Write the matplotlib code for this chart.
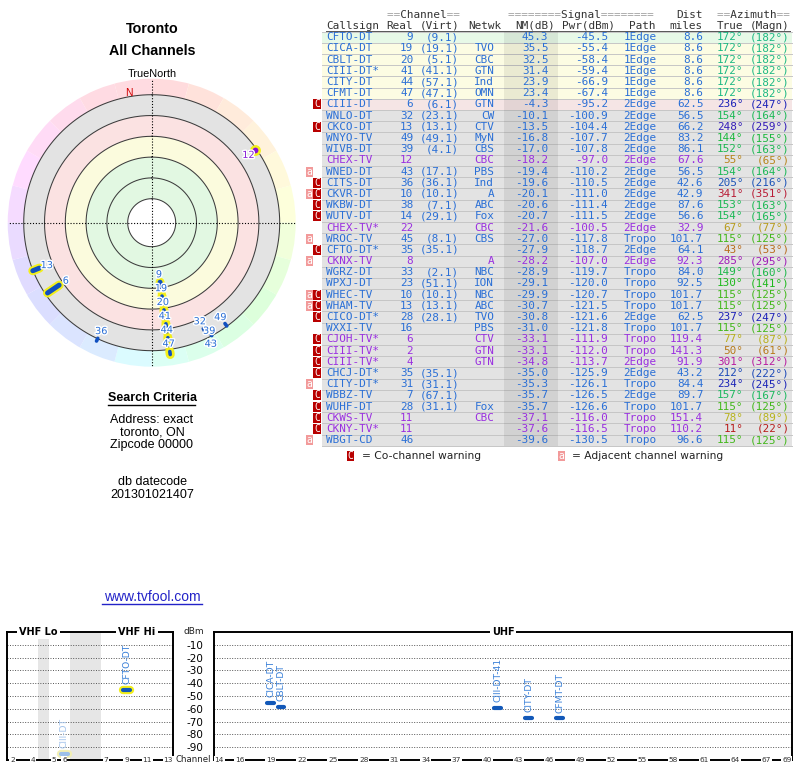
import colorsys
import numpy as np
import matplotlib
matplotlib.use('Agg')
import matplotlib.pyplot as plt
import matplotlib.patheffects as pe
from matplotlib.patches import Rectangle

plt.rcParams['axes.unicode_minus'] = False

# station list, as printed in the table (sorted by noise margin)
callsign = ['CFTO-DT', 'CICA-DT', 'CBLT-DT', 'CIII-DT*', 'CITY-DT', 'CFMT-DT', 'CIII-DT',
            'WNLO-DT', 'CKCO-DT', 'WNYO-TV', 'WIVB-DT', 'CHEX-TV', 'WNED-DT', 'CITS-DT',
            'CKVR-DT', 'WKBW-DT', 'WUTV-DT', 'CHEX-TV*', 'WROC-TV', 'CFTO-DT*', 'CKNX-TV',
            'WGRZ-DT', 'WPXJ-DT', 'WHEC-TV', 'WHAM-TV', 'CICO-DT*', 'WXXI-TV', 'CJOH-TV*',
            'CIII-TV*', 'CIII-TV*', 'CHCJ-DT*', 'CITY-DT*', 'WBBZ-TV', 'WUHF-DT', 'CKWS-TV',
            'CKNY-TV*', 'WBGT-CD']
real_ch = [9, 19, 20, 41, 44, 47, 6, 32, 13, 49, 39, 12, 43, 36, 10, 38, 14, 22, 45, 35, 8,
           33, 23, 10, 13, 28, 16, 6, 2, 4, 35, 31, 7, 28, 11, 11, 46]
virt_ch = ['9.1', '19.1', '5.1', '41.1', '57.1', '47.1', '6.1', '23.1', '13.1', '49.1', '4.1',
           '', '17.1', '36.1', '10.1', '7.1', '29.1', '', '8.1', '35.1', '', '2.1', '51.1',
           '10.1', '13.1', '28.1', '', '', '', '', '35.1', '31.1', '67.1', '31.1', '', '', '']
network = ['', 'TVO', 'CBC', 'GTN', 'Ind', 'OMN', 'GTN', 'CW', 'CTV', 'MyN', 'CBS', 'CBC',
           'PBS', 'Ind', 'A', 'ABC', 'Fox', 'CBC', 'CBS', '', 'A', 'NBC', 'ION', 'NBC', 'ABC',
           'TVO', 'PBS', 'CTV', 'GTN', 'GTN', '', '', '', 'Fox', 'CBC', '', '']
nm_db = [45.3, 35.5, 32.5, 31.4, 23.9, 23.4, -4.3, -10.1, -13.5, -16.8, -17.0, -18.2, -19.4,
         -19.6, -20.1, -20.6, -20.7, -21.6, -27.0, -27.9, -28.2, -28.9, -29.1, -29.9, -30.7,
         -30.8, -31.0, -33.1, -33.1, -34.8, -35.0, -35.3, -35.7, -35.7, -37.1, -37.6, -39.6]
pwr_dbm = [-45.5, -55.4, -58.4, -59.4, -66.9, -67.4, -95.2, -100.9, -104.4, -107.7, -107.8,
           -97.0, -110.2, -110.5, -111.0, -111.4, -111.5, -100.5, -117.8, -118.7, -107.0,
           -119.7, -120.0, -120.7, -121.5, -121.6, -121.8, -111.9, -112.0, -113.7, -125.9,
           -126.1, -126.5, -126.6, -116.0, -116.5, -130.5]
path = ['1Edge'] * 6 + ['2Edge'] * 12 + ['Tropo', '2Edge', '2Edge', 'Tropo', 'Tropo', 'Tropo',
        'Tropo', '2Edge', 'Tropo', 'Tropo', 'Tropo', '2Edge', '2Edge', 'Tropo', '2Edge',
        'Tropo', 'Tropo', 'Tropo', 'Tropo']
dist_mi = [8.6, 8.6, 8.6, 8.6, 8.6, 8.6, 62.5, 56.5, 66.2, 83.2, 86.1, 67.6, 56.5, 42.6, 42.9,
           87.6, 56.6, 32.9, 101.7, 64.1, 92.3, 84.0, 92.5, 101.7, 101.7, 62.5, 101.7, 119.4,
           141.3, 91.9, 43.2, 84.4, 89.7, 101.7, 151.4, 110.2, 96.6]
az_true = [172, 172, 172, 172, 172, 172, 236, 154, 248, 144, 152, 55, 154, 205, 341, 153, 154,
           67, 115, 43, 285, 149, 130, 115, 115, 237, 115, 77, 50, 301, 212, 234, 157, 115, 78,
           11, 115]
az_magn = [182, 182, 182, 182, 182, 182, 247, 164, 259, 155, 163, 65, 164, 216, 351, 163, 165,
           77, 125, 53, 295, 160, 141, 125, 125, 247, 125, 87, 61, 312, 222, 245, 167, 125, 89,
           22, 125]
analog = [0, 0, 0, 0, 0, 0, 0, 0, 0, 0, 0, 1, 0, 0, 0, 0, 0, 1, 0, 0, 1, 0, 0, 0, 0, 0, 0, 1,
          1, 1, 0, 0, 0, 0, 1, 1, 0]
warn_co = [0, 0, 0, 0, 0, 0, 1, 0, 1, 0, 0, 0, 0, 1, 1, 1, 1, 0, 0, 1, 0, 0, 0, 1, 1, 1, 0, 1,
           1, 1, 1, 0, 1, 1, 1, 1, 0]
warn_adj = [0, 0, 0, 0, 0, 0, 0, 0, 0, 0, 0, 0, 1, 0, 1, 0, 0, 0, 1, 0, 1, 0, 0, 1, 1, 0, 0, 0,
            0, 0, 0, 1, 0, 0, 0, 0, 1]
highlight = [1, 1, 1, 1, 1, 1, 1, 0, 1, 0, 0, 1, 0, 0, 0, 0, 0, 0, 0, 0, 0, 0, 0, 0, 0, 0, 0, 0,
             0, 0, 0, 0, 0, 0, 0, 0, 0]

location = ['Toronto', 'All Channels']
criteria = ['Address: exact', 'toronto, ON', 'Zipcode 00000']
datecode = ['db datecode', '201301021407']

vhf_ticks = [2, 4, 5, 6, 7, 9, 11, 13]
uhf_ticks = [14, 16, 19, 22, 25, 28, 31, 34, 37, 40, 43, 46, 49, 52, 55, 58, 61, 64, 67, 69]

BLUE = '#2a6fd6'
PURPLE = '#9a2fe0'
MONO = 'DejaVu Sans Mono'
SANS = 'Liberation Sans'
n = len(callsign)


def az_color(az, s=0.85, v=0.72):
    h = np.interp(az, [0, 11, 45, 77, 115, 172, 205, 240, 300, 341, 360],
                  [-8, 0, 33, 57, 105, 160, 218, 240, 308, 350, 352]) % 360
    return colorsys.hsv_to_rgb(h / 360.0, s, v)


def row_fill(nm):
    if nm >= 40:
        return '#e7f9e7'
    if nm >= 20:
        return '#fcfce3'
    if nm >= -10:
        return '#f5e5e5'
    return '#e3e3e3'


fig = plt.figure(figsize=(8, 7.68), dpi=100)

# page layer in pixel units (table, captions)
ax0 = fig.add_axes([0, 0, 1, 1])
ax0.set_xlim(0, 800)
ax0.set_ylim(768, 0)
ax0.axis('off')

ax0.text(152, 29, location[0], ha='center', va='center', fontsize=10.3,
         fontweight='bold', family=SANS)
ax0.text(152, 51, location[1], ha='center', va='center', fontsize=10.3,
         fontweight='bold', family=SANS)
ax0.text(152, 74, 'TrueNorth', ha='center', va='center', fontsize=7.8, family=SANS)

ax0.text(152, 398, 'Search Criteria', ha='center', va='center', fontsize=9,
         fontweight='bold', family=SANS)
ax0.plot([108, 195], [405, 405], color='black', lw=1)
for k, s in enumerate(criteria):
    ax0.text(152, 420 + k * 12.5, s, ha='center', va='center', fontsize=9, family=SANS)
for k, s in enumerate(datecode):
    ax0.text(152, 482 + k * 12.5, s, ha='center', va='center', fontsize=9, family=SANS)
ax0.text(152, 597, 'www.tvfool.com', ha='center', va='center', fontsize=10,
         color='#2323c8', family=SANS)
ax0.plot([102, 202], [603.5, 603.5], color='#2323c8', lw=1)

# ---- table ----
ROW_Y0, ROW_H = 37.3, 11.19
TX0, TX1 = 322, 792
fs = 7.9
hdr = '#333333'
eq = '#a0a0a0'
ax0.text(387, 15, '==       ==', family=MONO, fontsize=fs, color=eq, va='center')
ax0.text(387, 15, '  Channel  ', family=MONO, fontsize=fs, color=hdr, va='center')
ax0.text(508, 15, '========      ========', family=MONO, fontsize=fs, color=eq, va='center')
ax0.text(508, 15, '        Signal        ', family=MONO, fontsize=fs, color=hdr, va='center')
ax0.text(717, 15, '==       ==', family=MONO, fontsize=fs, color=eq, va='center')
ax0.text(717, 15, '  Azimuth  ', family=MONO, fontsize=fs, color=hdr, va='center')
ax0.text(703, 15, 'Dist', family=MONO, fontsize=fs, color=hdr, va='center', ha='right')
ax0.text(326, 25.7, 'Callsign', family=MONO, fontsize=fs, color=hdr, va='center')
for s, xr in [('Real', 413), ('(Virt)', 459.5), ('Netwk', 501), ('NM(dB)', 555),
              ('Pwr(dBm)', 615), ('Path', 655), ('miles', 703), ('True', 743.5),
              ('(Magn)', 789.5)]:
    ax0.text(xr, 25.7, s, family=MONO, fontsize=fs, color=hdr, va='center', ha='right')
ax0.plot([326, 790], [31, 31], color='#555555', lw=0.7)

for i in range(n):
    y = ROW_Y0 + i * ROW_H
    ax0.add_patch(Rectangle((TX0, y - ROW_H / 2), TX1 - TX0, ROW_H,
                            fc=row_fill(nm_db[i]), ec='none', zorder=1))
    ax0.plot([TX0, TX1], [y + ROW_H / 2] * 2, color='#c6c6c6', lw=0.7, zorder=2)
    if i == 0:
        ax0.plot([TX0, TX1], [y - ROW_H / 2] * 2, color='#c6c6c6', lw=0.7, zorder=2)
    col = PURPLE if analog[i] else BLUE
    kw = dict(family=MONO, fontsize=fs, color=col, va='center', zorder=4)
    ax0.text(326, y, callsign[i], **kw)
    ax0.text(413.3, y, str(real_ch[i]), ha='right', **kw)
    if virt_ch[i]:
        ax0.text(459.3, y, '(%s)' % virt_ch[i], ha='right', **kw)
    ax0.text(494.3, y, network[i], ha='right', **kw)
    ax0.text(548.3, y, '%.1f' % nm_db[i], ha='right', **kw)
    ax0.text(608.3, y, '%.1f' % pwr_dbm[i], ha='right', **kw)
    ax0.text(623.3, y, path[i], ha='left', **kw)
    ax0.text(703.3, y, '%.1f' % dist_mi[i], ha='right', **kw)
    kw['color'] = az_color(az_true[i])
    ax0.text(743.5, y, '%d°' % az_true[i], ha='right', **kw)
    ax0.text(790, y, '(%d°)' % az_magn[i], ha='right', **kw)
    if warn_adj[i]:
        ax0.add_patch(Rectangle((306, y - 5), 7.3, 10, fc='#f29a9a', ec='none'))
        ax0.text(309.65, y, 'a', family=MONO, fontsize=7, color='white',
                 ha='center', va='center')
    if warn_co[i]:
        ax0.add_patch(Rectangle((313.3, y - 5), 7.3, 10, fc='#b80000', ec='none'))
        ax0.text(316.95, y, 'C', family=MONO, fontsize=7, color='white',
                 ha='center', va='center')

# darker band behind the NM column
ax0.add_patch(Rectangle((504, ROW_Y0 - ROW_H / 2), 53.7, n * ROW_H, fc='black',
                        alpha=0.07, ec='none', zorder=3))

# legend under the table
ax0.add_patch(Rectangle((346.7, 450.5), 7.3, 10.5, fc='#b80000', ec='none'))
ax0.text(350.35, 455.7, 'C', family=MONO, fontsize=7, color='white', ha='center', va='center')
ax0.text(361.7, 456, '= Co-channel warning', fontsize=7.7, color='#222222', va='center')
ax0.add_patch(Rectangle((557.7, 450.5), 7.3, 10.5, fc='#f29a9a', ec='none'))
ax0.text(561.35, 455.7, 'a', family=MONO, fontsize=7, color='white', ha='center', va='center')
ax0.text(571.7, 456, '= Adjacent channel warning', fontsize=7.7, color='#222222', va='center')

# ---- radar plot (radius = -NM) ----
CX, CY, RPX = 151.7, 222.7, 144.0
axp = fig.add_axes([(CX - RPX) / 800, (768 - CY - RPX) / 768, 2 * RPX / 800, 2 * RPX / 768],
                   projection='polar')
axp.set_theta_zero_location('N')
axp.set_theta_direction(-1)
R_IN, R_OUT = -103.1, 35.4
axp.set_ylim(R_IN, R_OUT)
axp.set_axis_off()
PX = (R_OUT - R_IN) / RPX          # data units per pixel

ring_nm = [80, 60, 40, 20, 0, -20]
zones = [(80, 40, '#e2f8e2'), (40, 20, '#fbfbdd'), (20, 0, '#fbe2e2'), (0, -20, '#e3e3e3')]
for hi, lo, c in zones:
    axp.bar(0, hi - lo, width=2 * np.pi, bottom=-hi, color=c, edgecolor='none')
seg = np.arange(0, 360, 15) + 7.5
axp.bar(np.deg2rad(seg), R_OUT + 20 + 1, width=np.deg2rad(15), bottom=20,
        color=[az_color(a, s=0.14, v=1.0) for a in seg], edgecolor='none')
tc = np.linspace(0, 2 * np.pi, 361)
for r in ring_nm:
    axp.plot(tc, np.full_like(tc, -r), color='#3c3c3c', lw=0.75)
for th in [0, np.pi / 2, np.pi, 3 * np.pi / 2]:
    axp.plot([th, th], [R_IN, R_OUT], color='black', lw=0.8, ls=(0, (1, 1.6)))

decl = az_magn[0] - az_true[0]
axp.text(np.deg2rad(-decl), 23.4, 'N', color='#d00000', fontsize=7.5, family=SANS,
         ha='center', va='center')

shown = [i for i in range(n) if nm_db[i] > -20]
mark_r = {}
last_r = {}
for i in shown:
    r = -nm_db[i]
    if az_true[i] in last_r:
        r = max(r, last_r[az_true[i]] + 14 * PX)
    last_r[az_true[i]] = r
    mark_r[i] = r

# stacked stations on one bearing are linked
for az in sorted(set(az_true[i] for i in shown)):
    grp = [i for i in shown if az_true[i] == az]
    if len(grp) > 1 and any(highlight[i] for i in grp):
        th = np.deg2rad(az)
        axp.plot([th, th], [mark_r[grp[0]], mark_r[grp[-1]]], color='#15408a', lw=1.6,
                 solid_capstyle='round',
                 path_effects=[pe.Stroke(linewidth=5.5, foreground='#f3ef1a'), pe.Normal()])

lab_pos = []
for i in shown:
    th = np.deg2rad(az_true[i])
    r0 = mark_r[i]
    ch = real_ch[i]
    glow = [pe.Stroke(linewidth=6.5, foreground='#f3ef1a'), pe.Normal()] if highlight[i] else []
    if analog[i]:
        axp.plot(th, r0, 'o', ms=6, mfc='#8a10d8', mec='#f3ef1a' if highlight[i] else '#8a10d8',
                 mew=1.8)
    else:
        length = 14 if ch <= 6 else (7 if ch <= 13 else 3)
        width = 3.6 if ch <= 13 else 2.6
        axp.plot([th, th], [r0, r0 + length * PX], color='#1050c0', lw=width,
                 solid_capstyle='round', path_effects=glow)
    # label sits inward of the mark, nudged outward if it hits an earlier one
    rp = (r0 - R_IN) / PX - 8
    while any(np.hypot(rp * np.sin(th) - qx, rp * np.cos(th) - qy) < 13 for qx, qy in lab_pos):
        rp += 0.5
    lab_pos.append((rp * np.sin(th), rp * np.cos(th)))
    axp.text(th, R_IN + rp * PX, str(ch), ha='center', va='center', fontsize=7,
             color='#8a20d8' if analog[i] else '#2a6fd6',
             path_effects=[pe.withStroke(linewidth=2, foreground='white')])

# ---- spectrum panels ----
def vhf_slot(ch):
    if ch <= 4:
        return ch - 2
    if ch <= 6:
        return ch - 1
    return ch + 2


def spectrum_axes(rect, xlim):
    ax = fig.add_axes(rect)
    ax.set_xlim(*xlim)
    ax.set_ylim(-100, 0)
    ax.set_yticks(range(-90, 0, 10))
    ax.set_xticks([])
    ax.grid(axis='y', color='#555555', lw=0.7, ls=(0, (1, 1.6)))
    ax.tick_params(axis='y', length=0, labelleft=False)
    for sp in ax.spines.values():
        sp.set_linewidth(1.4)
    return ax


ax_v = spectrum_axes([7.3 / 800, 8 / 768, 166 / 800, 128 / 768], (-0.5, 15.5))
ax_u = spectrum_axes([214 / 800, 8 / 768, 578 / 800, 128 / 768], (13.5, 69.5))
ax_u.tick_params(axis='y', labelleft=True, pad=8, labelsize=7.5)

ax_v.axvspan(vhf_slot(4) + 0.5, vhf_slot(5) - 0.5, color='#e6e6e6', lw=0)
ax_v.axvspan(vhf_slot(6) + 0.5, vhf_slot(7) - 0.5, color='#e6e6e6', lw=0)

box = dict(fc='white', ec='none', pad=1.5)
ax_v.text((vhf_slot(2) + vhf_slot(6)) / 2, 0, 'VHF Lo', ha='center', va='center',
          fontsize=7, fontweight='bold', bbox=box, clip_on=False, zorder=5)
ax_v.text((vhf_slot(7) + vhf_slot(13)) / 2, 0, 'VHF Hi', ha='center', va='center',
          fontsize=7, fontweight='bold', bbox=box, clip_on=False, zorder=5)
ax_u.text((14 + 69) / 2, 0, 'UHF', ha='center', va='center',
          fontsize=7, fontweight='bold', bbox=box, clip_on=False, zorder=5)

tbox = dict(fc='white', ec='none', pad=0.6)
for ch in vhf_ticks:
    ax_v.text(vhf_slot(ch), -100, str(ch), ha='center', va='center', fontsize=5.3,
              color='#333333', bbox=tbox, clip_on=False, zorder=5)
for ch in uhf_ticks:
    ax_u.text(ch, -100, str(ch), ha='center', va='center', fontsize=5.3,
              color='#333333', bbox=tbox, clip_on=False, zorder=5)
ax0.text(193.5, 632, 'dBm', ha='center', va='center', fontsize=6.5, color='#222222')
ax0.text(193.5, 760, 'Channel', ha='center', va='center', fontsize=6.2, color='#222222')

for i in range(n):
    if analog[i] or pwr_dbm[i] < -100:
        continue
    ch = real_ch[i]
    if ch <= 13:
        ax, x = ax_v, vhf_slot(ch)
    else:
        ax, x = ax_u, ch
    weak = nm_db[i] < 0
    col = '#9dc0ea' if weak else '#1258b8'
    lab_col = '#a4c4ec' if weak else '#3a80d8'
    halo = '#f2efb4' if weak else '#f3ef1a'
    eff = [pe.Stroke(linewidth=6, foreground=halo), pe.Normal()] if ch <= 13 else []
    ax.plot([x - 0.33, x + 0.33], [pwr_dbm[i]] * 2, color=col, lw=3,
            solid_capstyle='round', path_effects=eff, zorder=4)
    name = callsign[i].rstrip('*')
    if callsign[i].endswith('*'):
        name = '%s-%d' % (name, ch)
    ax.text(x, pwr_dbm[i] + 4.5, name, rotation=90, ha='center', va='bottom',
            fontsize=6.6, color=lab_col, zorder=4)

fig.savefig('out.png', dpi=100)
